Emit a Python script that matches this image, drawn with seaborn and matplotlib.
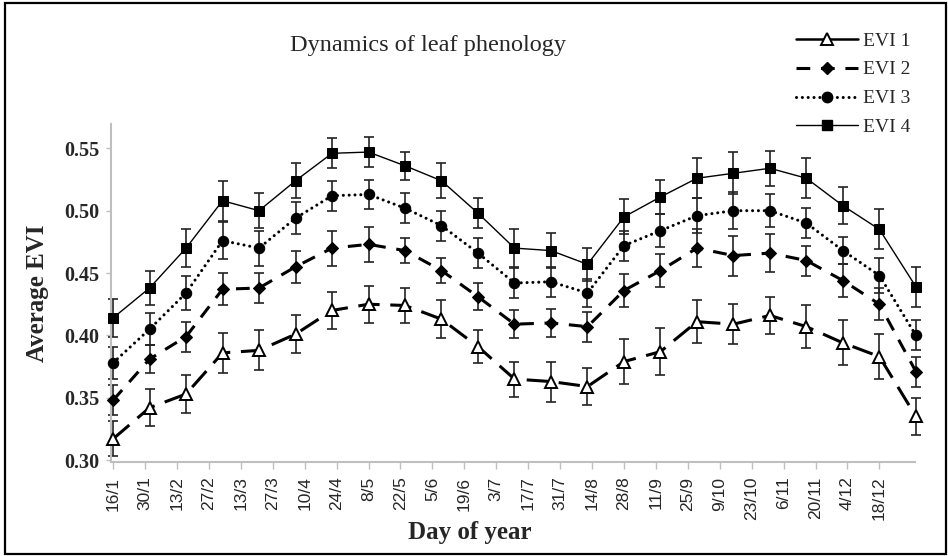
import datetime
import numpy as np
import pandas as pd
import matplotlib.pyplot as plt
from matplotlib.lines import Line2D
from matplotlib.patches import Rectangle
import seaborn as sns

sns.set_style("white")
plt.rcParams['font.family'] = ['Liberation Serif', 'DejaVu Sans']

# 16-day composites (day of year)
days = [16, 32, 48, 64, 80, 96, 112, 128, 144, 160, 176, 192,
        208, 224, 240, 256, 272, 288, 304, 320, 336, 352, 368]

evi1 = [0.317, 0.342, 0.353, 0.386, 0.388, 0.401, 0.420, 0.425, 0.424, 0.413, 0.391, 0.365,
        0.363, 0.359, 0.379, 0.387, 0.411, 0.409, 0.416, 0.407, 0.394, 0.383, 0.335]
evi1_err = [0.014, 0.015, 0.015, 0.016, 0.016, 0.015, 0.015, 0.015, 0.014, 0.015, 0.013, 0.014,
            0.016, 0.015, 0.018, 0.019, 0.017, 0.016, 0.015, 0.017, 0.018, 0.018, 0.015]

evi2 = [0.348, 0.381, 0.399, 0.437, 0.438, 0.455, 0.470, 0.473, 0.468, 0.452, 0.431, 0.409,
        0.410, 0.407, 0.436, 0.452, 0.470, 0.464, 0.466, 0.460, 0.444, 0.425, 0.371]
evi2_err = [0.012, 0.011, 0.012, 0.013, 0.012, 0.013, 0.014, 0.014, 0.010, 0.010, 0.011, 0.011,
            0.011, 0.012, 0.013, 0.013, 0.015, 0.016, 0.015, 0.012, 0.013, 0.013, 0.012]

evi3 = [0.378, 0.405, 0.434, 0.476, 0.470, 0.494, 0.512, 0.513, 0.502, 0.488, 0.466, 0.442,
        0.443, 0.434, 0.472, 0.484, 0.496, 0.500, 0.500, 0.490, 0.468, 0.448, 0.400]
evi3_err = [0.013, 0.013, 0.014, 0.015, 0.014, 0.013, 0.012, 0.012, 0.012, 0.012, 0.012, 0.012,
            0.012, 0.011, 0.012, 0.013, 0.014, 0.015, 0.013, 0.012, 0.011, 0.014, 0.012]

evi4 = [0.414, 0.438, 0.470, 0.508, 0.500, 0.524, 0.546, 0.547, 0.536, 0.524, 0.498, 0.470,
        0.468, 0.457, 0.495, 0.511, 0.526, 0.530, 0.534, 0.526, 0.504, 0.485, 0.439]
evi4_err = [0.015, 0.014, 0.015, 0.016, 0.014, 0.014, 0.012, 0.012, 0.011, 0.014, 0.012, 0.015,
            0.014, 0.013, 0.014, 0.014, 0.016, 0.017, 0.014, 0.016, 0.015, 0.016, 0.016]

tick_labels = ['16/1', '30/1', '13/2', '27/2', '13/3', '27/3', '10/4', '24/4', '8/5', '22/5',
               '5/6', '19/6', '3/7', '17/7', '31/7', '14/8', '28/8', '11/9', '25/9', '9/10',
               '23/10', '6/11', '20/11', '4/12', '18/12']
y_ticks = [0.30, 0.35, 0.40, 0.45, 0.50, 0.55]

series_names = ['EVI 1', 'EVI 2', 'EVI 3', 'EVI 4']
series_vals = [evi1, evi2, evi3, evi4]
series_errs = [evi1_err, evi2_err, evi3_err, evi4_err]

lw = 2.2
styles = {
    'EVI 1': dict(linestyle=(0, (7, 3.5)), linewidth=lw, marker='^', markersize=8,
                  markerfacecolor='white', markeredgecolor='black', markeredgewidth=1.4),
    'EVI 2': dict(linestyle=(0, (4.5, 3.5)), linewidth=lw, marker='D', markersize=6,
                  markerfacecolor='black', markeredgecolor='black'),
    'EVI 3': dict(linestyle=(0, (0.01, 1.9)), linewidth=lw, dash_capstyle='round', marker='o',
                  markersize=7.5, markerfacecolor='black', markeredgecolor='black'),
    'EVI 4': dict(linestyle='-', linewidth=1.0, marker='s', markersize=7.5,
                  markerfacecolor='black', markeredgecolor='black'),
}

fig = plt.figure(figsize=(9.48, 5.56), dpi=100)
ax = fig.add_axes([111 / 948, 1 - 462 / 556, (915 - 111) / 948, (462 - 124) / 556])

for name, vals, errs in zip(series_names, series_vals, series_errs):
    df = pd.DataFrame({'day': days, 'evi': vals})
    ax.errorbar(days, vals, yerr=errs, fmt='none', ecolor='#222222', elinewidth=1.2,
                capsize=3.8, capthick=1.2, clip_on=False, zorder=2)
    sns.lineplot(data=df, x='day', y='evi', ax=ax, color='black', clip_on=False,
                 zorder=3, **styles[name])

ax.set_xlim(15.1, 367.6)
ax.set_ylim(0.2985, 0.5695)

tick_days = [datetime.date(2001, int(t.split('/')[1]), int(t.split('/')[0])).timetuple().tm_yday
             for t in tick_labels]
ax.set_xticks(tick_days)
ax.set_xticklabels(tick_labels, rotation=90, family='Liberation Sans', fontsize=12.5)
ax.set_yticks(y_ticks)
ax.set_yticklabels(['%.2f' % v for v in y_ticks], fontsize=14.5, fontweight='bold')
ax.tick_params(axis='x', direction='out', length=5, width=1, color='#bfbfbf', pad=5.5, bottom=True)
ax.tick_params(axis='y', direction='out', length=3.5, width=1, color='#bfbfbf', pad=5, left=True)
ax.set_xlabel('')
ax.set_ylabel('')
for s in ['top', 'right']:
    ax.spines[s].set_visible(False)
for s in ['left', 'bottom']:
    ax.spines[s].set_color('#bfbfbf')
    ax.spines[s].set_linewidth(1.5)

fig.text(0.4515, 0.919, 'Dynamics of leaf phenology', ha='center', va='center', fontsize=17.5)
fig.text(470 / 948, 1 - 532 / 556, 'Day of year', ha='center', va='center',
         fontsize=18, fontweight='bold')
fig.text(37.5 / 948, 1 - 293 / 556, 'Average EVI', ha='center', va='center', rotation=90,
         fontsize=18, fontweight='bold')

handles = []
for name in series_names:
    st = dict(styles[name])
    if name == 'EVI 1':
        st['linestyle'] = '-'
        st['linewidth'] = 1.8
    handles.append(Line2D([], [], color='black', **st))
fig.legend(handles, series_names, loc='upper left', bbox_to_anchor=(796 / 948, 1 - 32 / 556),
           frameon=False, handlelength=3.2, handletextpad=0.25, labelspacing=0.58,
           borderpad=0, borderaxespad=0, prop={'family': 'Liberation Serif', 'size': 14})

fig.patches.append(Rectangle((5 / 948, 2.5 / 556), 941 / 948, 551 / 556, transform=fig.transFigure,
                             fill=False, edgecolor='black', linewidth=1.6))

fig.savefig('out.png', dpi=100)
